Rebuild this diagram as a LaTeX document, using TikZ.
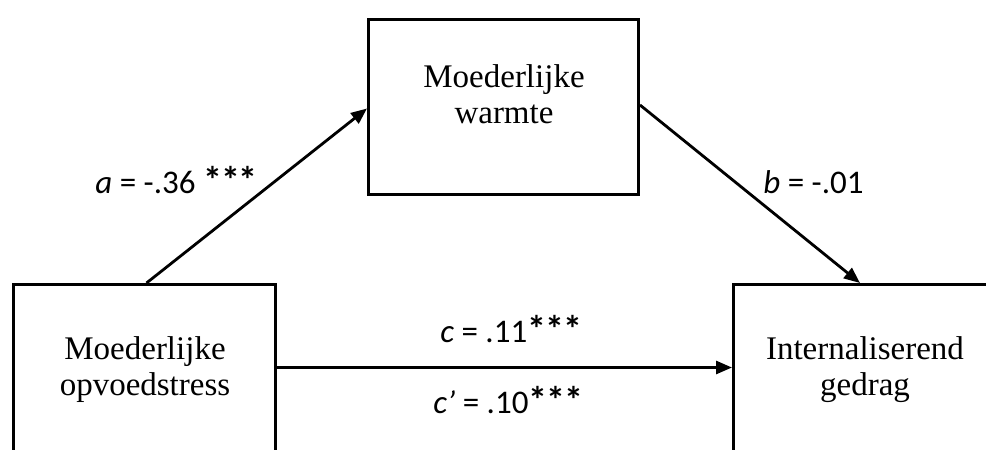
\documentclass[tikz,border=0pt]{standalone}
\usepackage{fontspec}
\setmainfont{Liberation Serif}
\newfontfamily\labfont{Carlito}
\usetikzlibrary{arrows.meta,calc}
\newcommand\stars{{\bfseries\fontsize{19}{18}\selectfont *\kern-0.5pt*\kern-0.5pt*}}
\tikzset{
  boxnode/.style={draw=black, line width=1.5pt, rectangle, inner sep=0pt, fill=white},
  boxtext/.style={inner sep=0pt, anchor=base, font=\fontsize{16.5}{18}\selectfont},
  lab/.style={inner sep=0pt, anchor=base west, font=\labfont\fontsize{16.5}{18}\selectfont},
  conn/.style={draw=black, line width=1.4pt, -{Triangle[length=8pt,width=6.5pt]}},
}
\begin{document}
\begin{tikzpicture}[x=0.5pt,y=-0.5pt]
\useasboundingbox (0,0) rectangle (986,450);
\clip (0,0) rectangle (986,450);
\fill[white] (0,0) rectangle (986,450);
% boxes
\node[boxnode, minimum width=135pt, minimum height=87.5pt] (tbox) at (503.5,107) {};
\node[boxnode, minimum width=131pt, minimum height=157.75pt] (lbox) at (144.5,442.25) {};
\node[boxnode, minimum width=133.25pt, minimum height=157.75pt] (rbox) at (866.75,442.25) {};
% box texts
\node[boxtext] (ttext) at (504,87) {\begin{tabular}[t]{@{}c@{}}Moederlijke\\ warmte\end{tabular}};
\node[boxtext] (ltext) at (145,359) {\begin{tabular}[t]{@{}c@{}}Moederlijke\\ opvoedstress\end{tabular}};
\node[boxtext] (rtext) at (865,359) {\begin{tabular}[t]{@{}c@{}}Internaliserend\\ gedrag\end{tabular}};
% connectors
\coordinate (aS) at ($(lbox.north west)+(134.5,0)$);
\coordinate (aE) at ($(tbox.north west)+(0,90.5)$);
\coordinate (bS) at ($(tbox.north east)+(0,87)$);
\coordinate (bE) at ($(rbox.north west)+(128,0)$);
\coordinate (cS) at ($(lbox.north east)+(0,84.5)$);
\coordinate (cE) at ($(rbox.north west)+(0,84.5)$);
\draw[conn] (aS) -- (aE);
\draw[conn] (bS) -- (bE);
\draw[conn] (cS) -- (cE);
% labels
\node[lab] (la) at (95,193) {\textit{a} = -.36 \stars};
\node[lab] (lb) at (763,193) {\textit{b} = -.01};
\node[lab] (lc) at (440,342) {\textit{c} = .11\stars};
\node[lab] (lcp) at (433,413) {\textit{c’} = .10\stars};
\end{tikzpicture}
\end{document}
